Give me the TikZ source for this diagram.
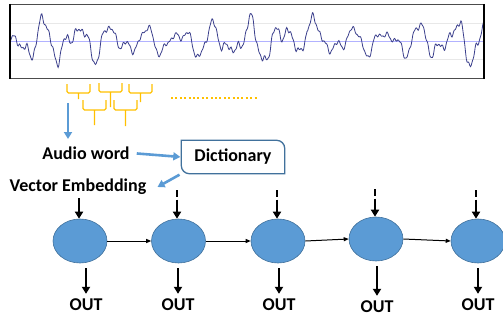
\documentclass[tikz,border=0pt]{standalone}
\usepackage{fontspec}
\setmainfont{Carlito}
\usetikzlibrary{arrows.meta,shapes.geometric}
\definecolor{wavenavy}{HTML}{3B3F8C}
\definecolor{gold}{HTML}{FFC000}
\definecolor{skyblue}{HTML}{5B9BD5}
\definecolor{edgeblue}{HTML}{41719C}
\begin{document}
\begin{tikzpicture}[x=1pt,y=-1pt,
    lbl/.style={font=\fontsize{18}{20}\selectfont\bfseries,inner sep=1pt},
    cell/.style={ellipse,fill=skyblue,draw=edgeblue,line width=0.6pt,minimum width=54pt,minimum height=44pt},
    bluearrow/.style={skyblue,line width=2.6pt,-{Triangle[length=7pt,width=8pt]}},
    inarrow/.style={line width=2.6pt,-{Triangle[length=7pt,width=8pt]}},
    linkarrow/.style={line width=1pt,-{Triangle[length=5pt,width=4pt]}},
    bracket/.style={gold,line width=1.4pt,rounded corners=1.5pt}]
  \useasboundingbox (0,0) rectangle (503,321);
  % waveform panel
  \begin{scope}
    \clip (10,5) rectangle (484,78);
    \draw[gray!18,line width=0.8pt] (10,23) -- (484,23) (10,59) -- (484,59);
    \draw[blue!30,line width=0.8pt] (10,41) -- (484,41);
    \draw[wavenavy,line width=0.8pt] plot[domain=10:484,samples=700]
      (\x,{41-(12*sin(10.5*\x)+7*sin(17.3*\x+50)+4*sin(29*mod(\x,12.414)+20)+2*sin(53*mod(\x,6.7925)+70)+1.2*sin(97*mod(\x,3.7113)))*(1+0.25*sin(1.7*\x))-22*max(0,1-abs(\x-307)/8)});
  \end{scope}
  \draw[black!70,line width=1pt] (10,4.5) -- (484,4.5) (10,78) -- (484,78);
  \draw[line width=2pt] (10,4) -- (10,78.5) (484,4) -- (484,78.5);
  % audio word brackets
  \foreach \xa/\xb/\ya/\yb/\ys in {67/90/84/93/99, 99/122/83/92/107, 129/152/84/93/102, 83/106/100/110/125, 114/137/100/110/126}
    \draw[bracket] (\xa,\ya) -- (\xa,\yb) -- (\xb,\yb) -- (\xb,\ya) ({(\xa+\xb)/2},\yb) -- ({(\xa+\xb)/2},\ys);
  \draw[gold,line width=2pt,dash pattern=on 2pt off 2.4pt] (171,98) -- (258,98);
  % text and dictionary
  \coordinate (wtop) at (68,103);
  \coordinate (wtip) at (68,139);
  \node[lbl] (aw) at (86,153) {Audio word};
  \node[lbl] (ve) at (78,187) {Vector Embedding};
  \node[lbl,minimum width=103pt,minimum height=33pt] (dict) at (233,157) {Dictionary};
  \draw[edgeblue,line width=1.3pt,fill=white] (dict.north west) -- ([xshift=-8pt]dict.north east)
    arc[start angle=90,end angle=0,radius=8pt] -- (dict.south east) -- ([xshift=8pt]dict.south west)
    arc[start angle=270,end angle=180,radius=8pt] -- cycle;
  \node[lbl] at (dict) {Dictionary};
  \draw[bluearrow] (wtop) -- (wtip);
  \draw[bluearrow,shorten <=6pt,shorten >=1pt] (aw.east) -- (dict.west);
  \draw[bluearrow,shorten <=2pt] (dict.south west) -- ([xshift=10pt]ve.east);
  % recurrent chain
  \node[cell] (e1) at (80,241) {};
  \node[cell] (e2) at (178.5,241) {};
  \node[cell] (e3) at (278,241) {};
  \node[cell] (e4) at (376,239) {};
  \node[cell] (e5) at (478,241) {};
  \foreach \a/\b in {e1/e2,e2/e3,e3/e4,e4/e5}
    \draw[linkarrow] (\a.east) -- (\b.west);
  \coordinate (t1) at (79,198);
  \coordinate (t2) at (177,190);
  \coordinate (t3) at (277,190);
  \coordinate (t4) at (375,189);
  \coordinate (t5) at (476,190);
  \draw[inarrow] (t1) -- (t1 |- e1.north);
  \foreach \i in {2,...,5}
    \draw[inarrow,dash pattern=on 7pt off 2.5pt on 40pt off 0pt] (t\i) -- (t\i |- e\i.north);
  \node[lbl] (o1) at (86,305) {OUT};
  \node[lbl] (o2) at (178,305) {OUT};
  \node[lbl] (o3) at (279,305) {OUT};
  \node[lbl] (o4) at (377,307) {OUT};
  \node[lbl] (o5) at (478,305) {OUT};
  \foreach \i in {1,...,5}
    \draw[inarrow,shorten <=5pt,shorten >=4pt] (o\i.north |- e\i.south) -- (o\i.north);
\end{tikzpicture}
\end{document}
